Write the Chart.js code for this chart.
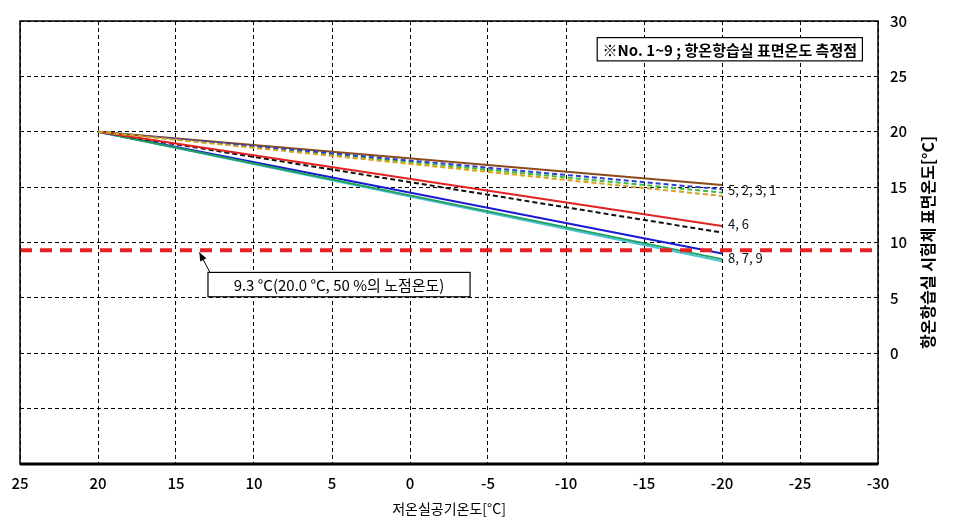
<!DOCTYPE html>
<html>
<head>
<meta charset="utf-8">
<script src="https://cdn.jsdelivr.net/npm/chart.js@4/dist/chart.umd.min.js"></script>
<style>
  html, body { margin: 0; padding: 0; background: #fff; }
  #wrap { width: 969px; height: 524px; position: relative; }
</style>
</head>
<body>
<div id="wrap"><canvas id="c" width="969" height="524"></canvas></div>
<script>
// ---- data ----
const xTickValues = [25, 20, 15, 10, 5, 0, -5, -10, -15, -20, -25, -30];
const yTickValues = [0, 5, 10, 15, 20, 25, 30];
const seriesNames = ['1', '2', '3', '4', '5', '6', '7', '8', '9'];
const xOutdoor = [20, -20];
const series1 = [20, 14.2];
const series2 = [20, 14.8];
const series3 = [20, 14.5];
const series4 = [20, 11.5];
const series5 = [20, 15.2];
const series6 = [20, 10.9];
const series7 = [20, 8.5];
const series8 = [20, 9.0];
const series9 = [20, 8.3];
const dewPointX = [25, -30];
const dewPointY = [9.3, 9.3];
const groupLabels = ['5, 2, 3, 1', '4, 6', '8, 7, 9'];
const groupLabelY = [14.7, 11.7, 8.6];
const legendText = '※No. 1~9 ; 항온항습실 표면온도 측정점';
const dewNote = '9.3 °C(20.0 °C, 50 %의 노점온도)';
const xTitle = '저온실공기온도[°C]';
const yTitle = '항온항습실 시험체 표면온도[°C]';

const FONT = '"Noto Sans CJK KR", "Noto Sans", sans-serif';

function pts(xs, ys) { return xs.map((x, i) => ({ x: x, y: ys[i] })); }

const styles = {
  '1': { color: '#d9a21a', dash: [5, 3] },
  '2': { color: '#2a3fd0', dash: [5, 3] },
  '3': { color: '#3dbb3d', dash: [5, 3] },
  '4': { color: '#e32222', dash: [] },
  '5': { color: '#8a4a1c', dash: [] },
  '6': { color: '#111111', dash: [5, 3] },
  '7': { color: '#22a060', dash: [] },
  '8': { color: '#1a1ad0', dash: [] },
  '9': { color: '#4cc4d4', dash: [] }
};
const seriesValues = [series1, series2, series3, series4, series5, series6, series7, series8, series9];

const datasets = [{
  label: 'dew',
  data: pts(dewPointX, dewPointY),
  borderColor: '#e62222',
  borderWidth: 4,
  borderDash: [12, 8],
  pointRadius: 0,
  fill: false
}];
seriesNames.forEach((n, i) => {
  datasets.push({
    label: n,
    data: pts(xOutdoor, seriesValues[i]),
    borderColor: styles[n].color,
    borderWidth: 2,
    borderDash: styles[n].dash,
    pointRadius: 0,
    fill: false
  });
});

const decor = {
  id: 'decor',
  afterDatasetsDraw(chart) {
    const { ctx, chartArea: a, scales } = chart;
    const X = v => scales.x.getPixelForValue(v);
    const Y = v => scales.y.getPixelForValue(v);
    ctx.save();
    // frame
    ctx.strokeStyle = '#000';
    ctx.lineWidth = 1.5;
    ctx.setLineDash([]);
    ctx.strokeRect(a.left, a.top, a.right - a.left, a.bottom - a.top);
    ctx.lineWidth = 3;
    ctx.beginPath();
    ctx.moveTo(a.left, a.bottom);
    ctx.lineTo(a.right, a.bottom);
    ctx.stroke();

    // group labels
    ctx.fillStyle = '#111';
    ctx.font = '13px ' + FONT;
    ctx.textAlign = 'left';
    ctx.textBaseline = 'middle';
    groupLabels.forEach((t, i) => {
      ctx.fillText(t, X(-20) + 6, Y(groupLabelY[i]));
    });

    // legend box
    const lx1 = X(-12), lx2 = X(-29), ly1 = Y(28.5), ly2 = Y(26.4);
    ctx.fillStyle = '#fff';
    ctx.fillRect(lx1, ly1, lx2 - lx1, ly2 - ly1);
    ctx.lineWidth = 1.2;
    ctx.strokeStyle = '#000';
    ctx.strokeRect(lx1, ly1, lx2 - lx1, ly2 - ly1);
    ctx.fillStyle = '#000';
    ctx.font = 'bold 15px ' + FONT;
    ctx.textAlign = 'center';
    ctx.fillText(legendText, (lx1 + lx2) / 2, (ly1 + ly2) / 2 + 1);

    // dew note box + arrow
    const bx1 = X(12.95), bx2 = X(-3.85), by1 = Y(7.3), by2 = Y(5.1);
    ctx.fillStyle = '#fff';
    ctx.fillRect(bx1, by1, bx2 - bx1, by2 - by1);
    ctx.strokeRect(bx1, by1, bx2 - bx1, by2 - by1);
    ctx.fillStyle = '#000';
    ctx.font = '15px ' + FONT;
    ctx.fillText(dewNote, (bx1 + bx2) / 2, (by1 + by2) / 2 + 1);
    const tx = X(13.5), ty = Y(9.1);
    ctx.beginPath();
    ctx.moveTo(bx1 + 2, by1);
    ctx.lineTo(tx, ty);
    ctx.lineWidth = 1;
    ctx.stroke();
    const ang = Math.atan2(ty - by1, tx - (bx1 + 2));
    ctx.beginPath();
    ctx.moveTo(tx, ty);
    ctx.lineTo(tx - 9 * Math.cos(ang - 0.4), ty - 9 * Math.sin(ang - 0.4));
    ctx.lineTo(tx - 9 * Math.cos(ang + 0.4), ty - 9 * Math.sin(ang + 0.4));
    ctx.closePath();
    ctx.fill();

    // right axis title (reads bottom-to-top)
    ctx.save();
    ctx.translate(928, (a.top + a.bottom) / 2);
    ctx.rotate(-Math.PI / 2);
    ctx.font = 'bold 16px ' + FONT;
    ctx.textAlign = 'center';
    ctx.textBaseline = 'middle';
    ctx.fillText(yTitle, 0, 0);
    ctx.restore();

    ctx.restore();
  }
};

new Chart(document.getElementById('c'), {
  type: 'line',
  data: { datasets: datasets },
  plugins: [decor],
  options: {
    responsive: false,
    animation: false,
    events: [],
    layout: { padding: { left: 20, top: 20, right: 0, bottom: 0 } },
    plugins: { legend: { display: false }, tooltip: { enabled: false } },
    scales: {
      x: {
        type: 'linear',
        reverse: true,
        min: -30,
        max: 25,
        afterBuildTicks(s) { s.ticks = xTickValues.map(v => ({ value: v })); },
        afterFit(s) { s.height = 60; },
        ticks: {
          color: '#000',
          font: { family: FONT, size: 15, weight: '500' },
          padding: 10,
          maxRotation: 0,
          callback: v => String(v)
        },
        grid: { color: '#000', lineWidth: 1, tickLength: 0, drawTicks: false },
        border: { display: false, dash: [4, 3] },
        title: {
          display: true,
          text: xTitle,
          color: '#000',
          font: { family: FONT, size: 14 },
          padding: { top: 2, bottom: 7 }
        }
      },
      y: {
        type: 'linear',
        position: 'right',
        min: -10,
        max: 30,
        ticks: {
          stepSize: 5,
          color: '#000',
          font: { family: FONT, size: 15, weight: '500' },
          padding: 12,
          callback: v => (yTickValues.includes(v) ? String(v) : '')
        },
        afterFit(s) { s.width = 91; },
        grid: { color: '#000', lineWidth: 1, drawTicks: false },
        border: { display: false, dash: [4, 3] }
      }
    }
  }
});
</script>
</body>
</html>
